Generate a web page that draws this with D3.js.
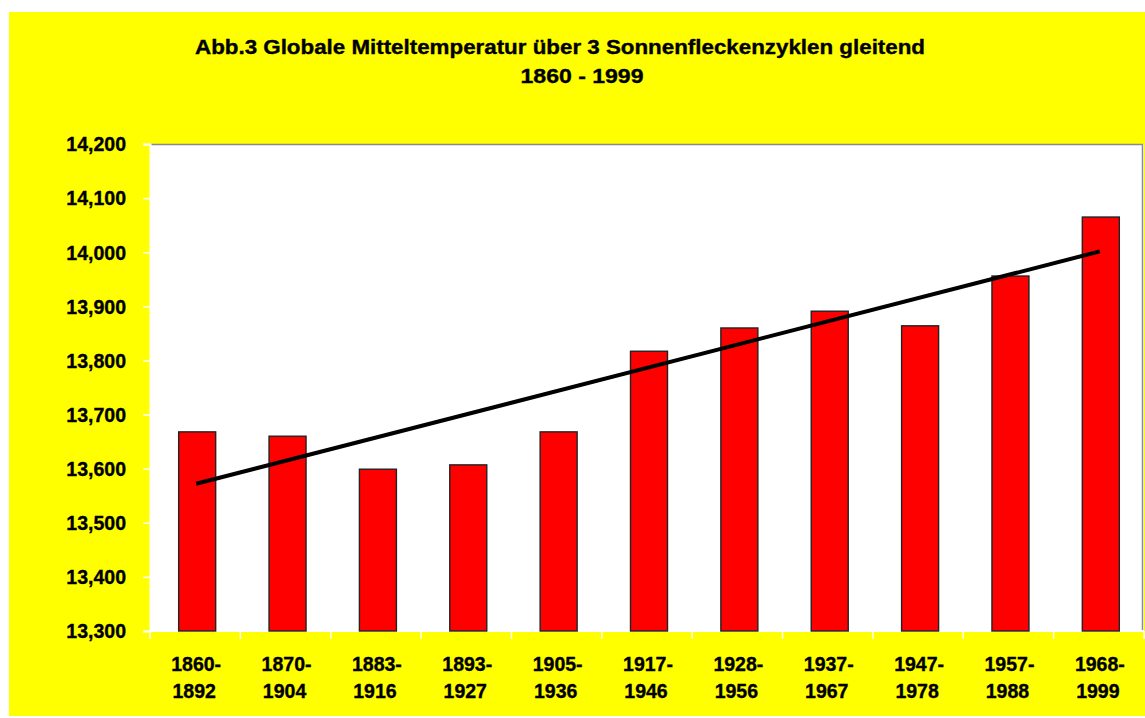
<!DOCTYPE html>
<html>
<head>
<meta charset="utf-8">
<script src="https://cdn.jsdelivr.net/npm/d3@7"></script>
<style>
  html, body { margin: 0; padding: 0; background: #fff; }
  svg { display: block; }
  text { font-family: "Liberation Sans", Arial, sans-serif; font-weight: bold; fill: #000; stroke: #000; stroke-width: 0.35px; }
</style>
</head>
<body>
<svg id="chart" width="1145" height="718"></svg>
<script>
// periods (two-line labels) and 3-cycle running mean temperature
var periodStart = ["1860", "1870", "1883", "1893", "1905", "1917", "1928", "1937", "1947", "1957", "1968"];
var periodEnd   = ["1892", "1904", "1916", "1927", "1936", "1946", "1956", "1967", "1978", "1988", "1999"];
var temps = [13.668, 13.660, 13.599, 13.607, 13.668, 13.817, 13.860, 13.891, 13.864, 13.956, 14.065];
var yTicks = [13.3, 13.4, 13.5, 13.6, 13.7, 13.8, 13.9, 14.0, 14.1, 14.2];
var titleLines = ["Abb.3 Globale Mitteltemperatur über 3 Sonnenfleckenzyklen gleitend", "1860 - 1999"];

var svg = d3.select("#chart");
var W = 1145, H = 718;
var m = {left: 150, right: 1, top: 144, bottom: 87};

// yellow background
svg.append("rect").attr("x", 9).attr("y", 12).attr("width", W - 9).attr("height", 704)
    .attr("fill", "#ffff00");

// plot area
var pw = W - m.left - m.right, ph = H - m.top - m.bottom;
var g = svg.append("g").attr("transform", "translate(" + m.left + "," + m.top + ")");
g.append("rect").attr("width", pw).attr("height", ph).attr("fill", "#fff");
// grey top and right frame
g.append("path").attr("d", "M0,0.5H" + (pw - 1.5) + "V" + ph)
    .attr("fill", "none").attr("stroke", "#8a8a8a").attr("stroke-width", 1.5);

var x = d3.scaleBand().domain(d3.range(temps.length)).range([0, pw]).paddingInner(0).paddingOuter(0);
var y = d3.scaleLinear().domain([13.3, 14.2]).range([ph, 0]);

var de = d3.formatLocale({decimal: ",", thousands: ".", grouping: [3], currency: ["", "€"]});
var fmt = de.format(".3f");

// y axis
var yAxis = g.append("g").call(d3.axisLeft(y).tickValues(yTicks).tickFormat(fmt).tickSize(7).tickPadding(17));
yAxis.select(".domain").attr("stroke", "#fff").attr("stroke-width", 2);
yAxis.selectAll(".tick line").attr("stroke", "#fff").attr("stroke-width", 1.5);
yAxis.selectAll(".tick text").style("font-size", "19.5px").attr("dy", "0.35em");

// x axis (white line, ticks at band edges)
var xAxisG = g.append("g").attr("transform", "translate(0," + ph + ")");
xAxisG.append("line").attr("x1", 0).attr("x2", pw).attr("stroke", "#fff").attr("stroke-width", 2);
xAxisG.selectAll("line.tk").data(d3.range(temps.length + 1)).enter().append("line")
    .attr("class", "tk")
    .attr("x1", function(i) { return i * x.bandwidth(); })
    .attr("x2", function(i) { return i * x.bandwidth(); })
    .attr("y1", 0).attr("y2", 8)
    .attr("stroke", "#fff").attr("stroke-width", 1.5);

var lab = xAxisG.selectAll("text.xl").data(d3.range(temps.length)).enter().append("text")
    .attr("class", "xl")
    .attr("text-anchor", "middle")
    .style("font-size", "19.5px")
    .attr("transform", function(i) { return "translate(" + (x(i) + x.bandwidth() / 2 + 1) + ",0)"; });
lab.append("tspan").attr("x", 0).attr("y", 40).text(function(i) { return periodStart[i] + "-"; });
lab.append("tspan").attr("x", -2).attr("y", 67).text(function(i) { return periodEnd[i]; });

// bars
var bw = 37;
g.selectAll("rect.bar").data(temps).enter().append("rect")
    .attr("class", "bar")
    .attr("x", function(d, i) { return x(i) + x.bandwidth() / 2 - bw / 2 + 2; })
    .attr("y", function(d) { return y(d); })
    .attr("width", bw)
    .attr("height", function(d) { return ph - y(d); })
    .attr("fill", "#ff0000")
    .attr("stroke", "#222")
    .attr("stroke-width", 1.4);

// linear trend (least squares over the bar values)
var n = temps.length;
var xs = d3.range(n);
var mx = d3.mean(xs), my = d3.mean(temps);
var slope = d3.sum(xs, function(i) { return (i - mx) * (temps[i] - my); }) /
            d3.sum(xs, function(i) { return (i - mx) * (i - mx); });
var trend = [0, n - 1].map(function(i) { return [i, my + slope * (i - mx)]; });
g.append("path").datum(trend)
    .attr("d", d3.line()
        .x(function(d) { return x(d[0]) + x.bandwidth() / 2 + 1; })
        .y(function(d) { return y(d[1]); }))
    .attr("fill", "none").attr("stroke", "#000").attr("stroke-width", 4);

// title
svg.append("text").attr("x", 560).attr("y", 54).attr("text-anchor", "middle")
    .style("font-size", "20px")
    .attr("textLength", 730).attr("lengthAdjust", "spacingAndGlyphs")
    .text(titleLines[0]);
svg.append("text").attr("x", 582).attr("y", 83).attr("text-anchor", "middle")
    .style("font-size", "20px")
    .attr("textLength", 123).attr("lengthAdjust", "spacingAndGlyphs")
    .text(titleLines[1]);
</script>
</body>
</html>
